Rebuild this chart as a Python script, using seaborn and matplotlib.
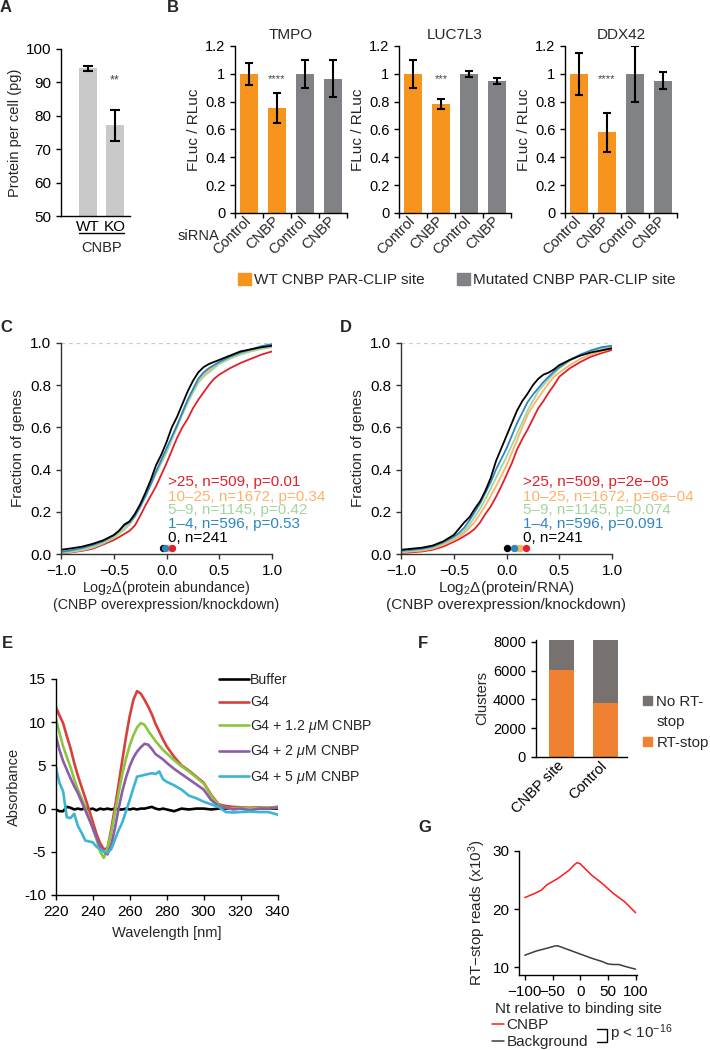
import numpy as np
import pandas as pd
import matplotlib
matplotlib.use('Agg')
import matplotlib.pyplot as plt
import matplotlib.transforms as mtransforms
import seaborn as sns
from matplotlib.patches import Patch
from matplotlib.lines import Line2D

# ---------------- DATA ----------------
A_groups = ['WT', 'KO']
A_values = [94.2, 77.2]
A_errors = [0.85, 4.6]

B_genes = ['TMPO', 'LUC7L3', 'DDX42']
B_sirna = ['Control', 'CNBP', 'Control', 'CNBP']
B_site = ['WT', 'WT', 'Mutated', 'Mutated']
TMPO_values = [1.0, 0.755, 1.0, 0.965]
TMPO_errors = [0.08, 0.11, 0.10, 0.135]
LUC7L3_values = [1.0, 0.785, 1.0, 0.95]
LUC7L3_errors = [0.10, 0.035, 0.022, 0.022]
DDX42_values = [1.0, 0.58, 1.0, 0.95]
DDX42_errors = [0.15, 0.14, 0.20, 0.06]
B_stars = ['****', '***', '****']
B_yticklabels = ['0', '0.2', '0.4', '0.6', '0.8', '1', '1.2']

CD_groups = ['0', '1-4', '5-9', '10-25', '>25']
C_labels = ['0, n=241', '1\u20134, n=596, p=0.53', '5\u20139, n=1145, p=0.42',
            '10\u201325, n=1672, p=0.34', '>25, n=509, p=0.01']
D_labels = ['0, n=241', '1\u20134, n=596, p=0.091', '5\u20139, n=1145, p=0.074',
            '10\u201325, n=1672, p=6e\u221204', '>25, n=509, p=2e\u221205']
CD_x = [-1.0, -0.9, -0.8, -0.7, -0.6, -0.5, -0.45, -0.4, -0.35, -0.3, -0.25, -0.2, -0.15, -0.1,
        -0.05, 0.0, 0.05, 0.1, 0.15, 0.2, 0.25, 0.3, 0.35, 0.4, 0.45, 0.5, 0.6, 0.7, 0.8, 0.9, 1.0]
C_F_0 = [0.02, 0.027, 0.035, 0.048, 0.065, 0.09, 0.11, 0.14, 0.155, 0.19, 0.235, 0.29, 0.35, 0.42,
         0.47, 0.53, 0.60, 0.65, 0.71, 0.77, 0.82, 0.86, 0.885, 0.90, 0.91, 0.92, 0.94, 0.96, 0.97, 0.98, 0.987]
C_F_1_4 = [0.01, 0.018, 0.028, 0.042, 0.06, 0.088, 0.11, 0.135, 0.15, 0.18, 0.225, 0.275, 0.33, 0.39,
           0.445, 0.50, 0.555, 0.61, 0.67, 0.73, 0.78, 0.83, 0.86, 0.88, 0.895, 0.91, 0.935, 0.955, 0.97, 0.985, 0.995]
C_F_5_9 = [0.005, 0.01, 0.018, 0.03, 0.05, 0.075, 0.095, 0.115, 0.14, 0.175, 0.22, 0.27, 0.325, 0.38,
           0.43, 0.48, 0.54, 0.60, 0.66, 0.715, 0.765, 0.81, 0.84, 0.86, 0.88, 0.90, 0.925, 0.945, 0.96, 0.972, 0.98]
C_F_10_25 = [0.005, 0.012, 0.02, 0.032, 0.052, 0.08, 0.10, 0.12, 0.145, 0.18, 0.225, 0.28, 0.335, 0.39,
             0.44, 0.495, 0.55, 0.61, 0.67, 0.725, 0.775, 0.82, 0.85, 0.87, 0.89, 0.905, 0.93, 0.95, 0.965, 0.975, 0.982]
C_F_gt25 = [0.003, 0.008, 0.015, 0.025, 0.045, 0.066, 0.08, 0.095, 0.11, 0.135, 0.18, 0.23, 0.275, 0.32,
            0.375, 0.43, 0.49, 0.55, 0.60, 0.64, 0.69, 0.73, 0.765, 0.80, 0.83, 0.85, 0.88, 0.905, 0.925, 0.945, 0.96]
D_F_0 = [0.02, 0.025, 0.03, 0.04, 0.06, 0.09, 0.12, 0.15, 0.175, 0.215, 0.25, 0.30, 0.36, 0.44,
         0.50, 0.56, 0.62, 0.68, 0.725, 0.76, 0.80, 0.83, 0.85, 0.86, 0.875, 0.895, 0.92, 0.94, 0.955, 0.965, 0.975]
D_F_1_4 = [0.015, 0.02, 0.025, 0.035, 0.055, 0.082, 0.10, 0.125, 0.16, 0.20, 0.24, 0.29, 0.34, 0.40,
           0.45, 0.50, 0.56, 0.62, 0.67, 0.72, 0.755, 0.785, 0.815, 0.84, 0.865, 0.885, 0.92, 0.945, 0.965, 0.98, 0.987]
D_F_5_9 = [0.01, 0.015, 0.02, 0.03, 0.05, 0.074, 0.09, 0.11, 0.14, 0.177, 0.215, 0.26, 0.31, 0.36,
           0.41, 0.46, 0.515, 0.57, 0.625, 0.68, 0.725, 0.77, 0.80, 0.83, 0.855, 0.88, 0.915, 0.945, 0.962, 0.975, 0.98]
D_F_10_25 = [0.008, 0.012, 0.016, 0.025, 0.043, 0.066, 0.08, 0.10, 0.125, 0.153, 0.19, 0.23, 0.275, 0.32,
             0.37, 0.42, 0.48, 0.54, 0.60, 0.66, 0.70, 0.74, 0.775, 0.81, 0.84, 0.86, 0.895, 0.925, 0.945, 0.96, 0.975]
D_F_gt25 = [0.005, 0.008, 0.012, 0.02, 0.035, 0.058, 0.07, 0.085, 0.10, 0.12, 0.15, 0.19, 0.225, 0.27,
            0.32, 0.375, 0.43, 0.495, 0.545, 0.59, 0.64, 0.69, 0.725, 0.765, 0.80, 0.84, 0.88, 0.91, 0.935, 0.952, 0.967]
C_medians = [-0.035, -0.018, 0.0, 0.01, 0.05]
D_medians = [0.003, 0.073, 0.10, 0.126, 0.183]

E_nm = [220, 222, 224, 226, 228, 230, 232, 234, 236, 238, 240, 242, 244, 246, 248, 250,
        252, 254, 256, 258, 260, 262, 264, 266, 268, 270, 272, 274, 276, 278, 280, 284,
        288, 292, 296, 300, 304, 308, 312, 316, 320, 325, 330, 335, 340]
E_buffer = [-0.1, -0.3, -0.3, 0.2, 0.1, -0.1, 0.0, -0.1, 0.1, -0.1, 0.0, -0.2, 0.0, -0.1, 0.0, -0.1,
            0.0, -0.1, -0.1, 0.0, -0.1, 0.0, -0.1, 0.0, 0.0, 0.1, 0.2, 0.0, -0.1, 0.0, -0.1, -0.3,
            0.0, -0.1, 0.0, 0.0, -0.1, 0.0, 0.0, 0.0, 0.0, 0.0, 0.0, 0.0, 0.0]
E_G4 = [11.8, 10.8, 9.9, 8.4, 7.0, 5.3, 3.8, 2.5, 1.2, -0.1, -1.5, -2.9, -4.0, -4.7, -4.6, -2.4,
        0.1, 2.8, 5.6, 8.3, 10.7, 12.6, 13.6, 13.3, 12.6, 11.8, 10.9, 9.8, 8.9, 8.0, 7.2, 6.0,
        5.0, 4.4, 3.7, 3.0, 1.6, 0.5, 0.3, 0.2, 0.15, 0.1, 0.15, 0.1, 0.2]
E_G4_1p2 = [10.5, 8.8, 7.2, 6.0, 4.8, 3.4, 2.2, 1.2, 0.2, -1.0, -2.3, -3.5, -5.0, -5.7, -4.6, -2.8,
            -0.5, 1.8, 4.0, 5.8, 7.3, 8.5, 9.4, 9.9, 9.7, 9.0, 8.4, 7.8, 7.3, 6.8, 6.4, 5.6,
            4.9, 4.3, 3.6, 2.9, 1.5, 0.4, 0.1, 0.0, 0.1, 0.0, 0.1, 0.1, 0.1]
E_G4_2 = [8.5, 6.8, 5.5, 4.5, 3.5, 2.6, 1.8, 0.8, -0.2, -1.2, -2.2, -3.3, -4.4, -5.0, -5.3, -4.2,
          -2.3, 0.0, 2.0, 3.6, 4.9, 5.9, 6.6, 7.1, 7.5, 7.4, 6.9, 6.3, 6.0, 5.7, 5.3, 4.6,
          4.0, 3.4, 2.8, 2.2, 1.0, 0.3, 0.1, -0.1, 0.0, -0.2, 0.0, 0.0, 0.1]
E_G4_5 = [4.9, 3.0, 2.0, -1.0, -1.1, -0.6, -2.0, -2.8, -3.7, -3.8, -3.9, -4.4, -4.7, -5.0, -5.1, -4.7,
          -3.6, -2.5, -1.6, -0.3, 1.0, 2.4, 3.7, 3.8, 3.9, 4.0, 4.1, 4.0, 4.3, 3.4, 3.1, 2.7,
          2.2, 1.5, 1.2, 0.8, 0.5, 0.2, -0.4, -0.45, -0.4, -0.35, -0.4, -0.4, -0.7]
E_labels = ['Buffer', 'G4', 'G4 + 1.2 $\\mu$M CNBP', 'G4 + 2 $\\mu$M CNBP', 'G4 + 5 $\\mu$M CNBP']
E_yticks = [-10, -5, 0, 5, 10, 15]
E_yticklabels = ['-10', '-5', '0', '5', '10', '15']

F_groups = ['CNBP site', 'Control']
F_rt_stop = [6050, 3770]
F_no_rt_stop = [2100, 4380]

G_nt = [-100, -80, -70, -60, -40, -20, -10, -5, 0, 20, 40, 60, 80, 100]
G_cnbp = [22.0, 22.8, 23.3, 24.2, 25.3, 26.7, 27.7, 28.0, 27.8, 25.9, 24.4, 22.7, 21.3, 19.4]
G_bg_nt = [-100, -80, -60, -45, -40, -20, 0, 20, 40, 50, 60, 70, 80, 100]
G_background = [12.1, 12.8, 13.3, 13.7, 13.7, 13.0, 12.3, 11.6, 11.0, 10.6, 10.5, 10.5, 10.2, 9.7]

# ---------------- STYLE ----------------
sns.set_theme(style='ticks')
plt.rcParams['font.family'] = ['Liberation Sans', 'DejaVu Sans']
plt.rcParams['mathtext.fontset'] = 'custom'
plt.rcParams['mathtext.rm'] = 'Liberation Sans'
plt.rcParams['mathtext.it'] = 'Liberation Sans:italic'
plt.rcParams['axes.linewidth'] = 1.0
plt.rcParams['xtick.major.width'] = 1.0
plt.rcParams['ytick.major.width'] = 1.0
plt.rcParams['xtick.major.size'] = 3.5
plt.rcParams['ytick.major.size'] = 3.5

W, H = 710, 1050
fig = plt.figure(figsize=(7.1, 10.5), dpi=100)


def rect(l, t, r, b):
    return [l / W, 1 - b / H, (r - l) / W, (b - t) / H]


def fx(x):
    return x / W


def fy(y):
    return 1 - y / H


def style_axes(ax, color='black', size=10.5):
    sns.despine(ax=ax)
    for s in ['left', 'bottom']:
        ax.spines[s].set_color(color)
    ax.tick_params(colors='black', labelsize=size, length=3.5, width=1.0)
    ax.tick_params(axis='both', color=color)


# panel letters
for letter, x, y in [('A', 0, 8), ('B', 167, 8), ('C', 0, 327), ('D', 340, 327),
                     ('E', 2, 643), ('F', 418, 643), ('G', 418, 827)]:
    fig.text(fx(x), fy(y), letter, fontsize=12, fontweight='bold', ha='left', va='center')

# ---------------- A ----------------
axA = fig.add_axes(rect(61, 49, 130, 216))
dfA = pd.DataFrame({'g': A_groups, 'v': A_values})
sns.barplot(data=dfA, x='g', y='v', color='#C9C9C9', saturation=1, width=0.67,
            errorbar=None, linewidth=0, ax=axA)
axA.errorbar(range(len(A_values)), A_values, yerr=A_errors, fmt='none', ecolor='black',
             elinewidth=1.5, capsize=3.5, capthick=1.5)
axA.set_ylim(50, 100)
axA.set_yticks([50, 60, 70, 80, 90, 100])
axA.set_xlim(-1.0, 1.56)
style_axes(axA, size=11)
axA.tick_params(axis='x', length=0, pad=3)
axA.set_xlabel('')
axA.set_ylabel('Protein per cell (pg)', fontsize=10.5, labelpad=3)
axA.text(1, 90.7, '**', ha='center', va='center', fontsize=9, color='#444444')
trA = mtransforms.blended_transform_factory(axA.transData, axA.transAxes)
axA.plot([-0.35, 1.35], [-0.099, -0.099], transform=trA, color='black', lw=1.0, clip_on=False)
axA.text(0.5, -0.19, 'CNBP', transform=trA, ha='center', va='center', fontsize=10.5)

# ---------------- B ----------------
orangeB = '#F7941D'
grayB = '#808285'
B_vals = [TMPO_values, LUC7L3_values, DDX42_values]
B_errs = [TMPO_errors, LUC7L3_errors, DDX42_errors]
for i, left in enumerate([235, 399, 565]):
    ax = fig.add_axes(rect(left, 46, left + 112, 213))
    df = pd.DataFrame({'pos': [0, 1, 2, 3], 'v': B_vals[i], 'site': B_site})
    sns.barplot(data=df, x='pos', y='v', hue='site', palette={'WT': orangeB, 'Mutated': grayB},
                dodge=False, width=0.61, saturation=1, errorbar=None, legend=False,
                linewidth=0, ax=ax)
    ax.errorbar([0, 1, 2, 3], B_vals[i], yerr=B_errs[i], fmt='none', ecolor='black',
                elinewidth=1.5, capsize=3.2, capthick=1.5)
    ax.set_ylim(0, 1.2)
    ax.set_yticks([0, 0.2, 0.4, 0.6, 0.8, 1.0, 1.2])
    ax.set_yticklabels(B_yticklabels)
    ax.set_xlim(-0.5, 3.5)
    style_axes(ax, size=10.5)
    ax.set_xticks([-0.5, 0.5, 1.5, 2.5, 3.5])
    ax.set_xticklabels([])
    ax.set_xticks([0, 1, 2, 3], minor=True)
    ax.set_xticklabels(B_sirna, minor=True, rotation=45, ha='right', va='center',
                       rotation_mode='anchor', fontsize=10.5)
    ax.tick_params(axis='x', which='minor', length=0, pad=4)
    ax.tick_params(axis='x', which='major', length=3.5)
    ax.set_xlabel('')
    ax.set_ylabel('FLuc / RLuc', fontsize=11, labelpad=3)
    ax.set_title(B_genes[i], fontsize=11, pad=5)
    ax.text(1, 0.963, B_stars[i], ha='center', va='center', fontsize=8, color='#444444')
fig.text(fx(178), fy(236), 'siRNA', fontsize=10.5, ha='left', va='center')
legB = fig.legend(handles=[Patch(color=orangeB, label='WT CNBP PAR-CLIP site'),
                           Patch(color=grayB, label='Mutated CNBP PAR-CLIP site')],
                  loc='center left', bbox_to_anchor=(fx(238), fy(280)), ncol=2, frameon=False,
                  fontsize=11, handlelength=0.85, handleheight=0.85, handletextpad=0.2,
                  columnspacing=2.1, borderpad=0, borderaxespad=0)

# ---------------- C & D ----------------
cd_colors = ['#000000', '#2D86C4', '#A3D69B', '#FBB36A', '#E3202A']
C_series = [C_F_0, C_F_1_4, C_F_5_9, C_F_10_25, C_F_gt25]
D_series = [D_F_0, D_F_1_4, D_F_5_9, D_F_10_25, D_F_gt25]
draw_order = [4, 3, 2, 1, 0]
for key, left, series, meds, labels, xlabel, text_x, xl_size in [
        ('C', 61, C_series, C_medians, C_labels, 'Log$_2$\u0394(protein abundance)', 0.014, 10.3),
        ('D', 401, D_series, D_medians, D_labels, 'Log$_2$\u0394(protein/RNA)', 0.153, 11)]:
    ax = fig.add_axes(rect(left, 343, left + 211, 554))
    ax.axhline(1.0, color='#C8C8C8', lw=0.9, ls=(0, (3, 3)), zorder=0)
    for j in draw_order:
        sns.lineplot(x=CD_x, y=series[j], color=cd_colors[j], lw=1.3, estimator=None,
                     sort=False, ax=ax)
    for j in [0, 2, 3, 1, 4]:
        ax.scatter([meds[j]], [0.028], s=28, color=cd_colors[j], zorder=5, linewidths=0)
    ys = [0.074, 0.142, 0.209, 0.272, 0.343]
    for j in range(5):
        ax.text(text_x, ys[j], labels[j], color=cd_colors[j], fontsize=11, ha='left', va='center')
    ax.set_xlim(-1, 1)
    ax.set_ylim(0, 1.0)
    ax.set_xticks([-1.0, -0.5, 0.0, 0.5, 1.0])
    ax.set_yticks([0.0, 0.2, 0.4, 0.6, 0.8, 1.0])
    style_axes(ax, color='#333333', size=11)
    ax.set_xlabel(xlabel + '\n(CNBP overexpression/knockdown)', fontsize=xl_size, labelpad=1,
                  linespacing=1.1)
    ax.set_ylabel('Fraction of genes', fontsize=11, labelpad=4)

# ---------------- E ----------------
axE = fig.add_axes(rect(55.7, 679, 277.7, 895))
E_series = [E_buffer, E_G4, E_G4_1p2, E_G4_2, E_G4_5]
E_colors = ['#000000', '#D9403B', '#8CC63E', '#8D5CAA', '#3CB4D4']
for vals, col, lab in zip(E_series, E_colors, E_labels):
    sns.lineplot(x=E_nm, y=vals, color=col, lw=1.9, label=lab, estimator=None, sort=False, ax=axE)
axE.set_xlim(220, 340)
axE.set_ylim(-10, 15)
axE.set_xticks(list(range(220, 341, 20)))
axE.set_yticks(E_yticks)
axE.set_yticklabels(E_yticklabels)
style_axes(axE, size=11)
axE.set_xlabel('Wavelength [nm]', fontsize=10.5, labelpad=5)
axE.set_ylabel('Absorbance', fontsize=10.5, labelpad=2)
axE.legend(loc='upper left', bbox_to_anchor=(fx(219), fy(673)), bbox_transform=fig.transFigure,
           frameon=False, fontsize=10.2, handlelength=2.1, handletextpad=0.1, labelspacing=0.6,
           borderpad=0, borderaxespad=0)

# ---------------- F ----------------
orangeF = '#F08133'
grayF = '#777170'
axF = fig.add_axes(rect(535.7, 639.8, 626.7, 756.7))
F_total = [a + b for a, b in zip(F_rt_stop, F_no_rt_stop)]
sns.barplot(x=F_groups, y=F_total, color=grayF, saturation=1, width=0.57, errorbar=None,
            linewidth=0, ax=axF)
sns.barplot(x=F_groups, y=F_rt_stop, color=orangeF, saturation=1, width=0.57, errorbar=None,
            linewidth=0, ax=axF)
axF.set_xlim(-0.59, 1.49)
axF.set_ylim(0, 8150)
axF.set_yticks([0, 2000, 4000, 6000, 8000])
style_axes(axF, size=10.5)
axF.set_xticks([0, 1])
axF.set_xticklabels(F_groups, rotation=45, ha='right', va='center', rotation_mode='anchor', fontsize=10.5)
axF.tick_params(axis='x', length=0, pad=5)
axF.set_ylabel('Clusters', fontsize=10.5, labelpad=3)
axF.legend(handles=[Patch(color=grayF, label='No RT-'), Patch(color='none', label='stop'),
                    Patch(color=orangeF, label='RT-stop')],
           loc='upper left', bbox_to_anchor=(fx(643), fy(695)), bbox_transform=fig.transFigure,
           frameon=False, fontsize=10.8, handlelength=0.6, handleheight=0.6, handletextpad=0.3,
           labelspacing=0.42, borderpad=0, borderaxespad=0)

# ---------------- G ----------------
axG = fig.add_axes(rect(519.3, 851, 636.7, 975))
sns.lineplot(x=G_nt, y=G_cnbp, color='#FF1A1A', lw=1.1, estimator=None, sort=False, ax=axG, label='CNBP')
sns.lineplot(x=G_bg_nt, y=G_background, color='#3C3C3C', lw=1.1, estimator=None, sort=False, ax=axG,
             label='Background')
axG.set_xlim(-110, 102)
axG.set_ylim(8.7, 30)
axG.set_xticks([-100, -50, 0, 50, 100])
axG.set_yticks([10, 20, 30])
style_axes(axG, size=11)
axG.set_xlabel('Nt relative to binding site', fontsize=11, labelpad=2)
axG.set_ylabel('RT\u2212stop reads (x10$^3$)', fontsize=11, labelpad=3)
axG.legend(loc='upper left', bbox_to_anchor=(fx(492), fy(1018)), bbox_transform=fig.transFigure,
           frameon=False, fontsize=11, handlelength=0.8, handletextpad=0.15, labelspacing=0.2,
           borderpad=0, borderaxespad=0)
fig.add_artist(Line2D([fx(597), fx(606.5), fx(606.5), fx(597)],
                      [fy(1029), fy(1029), fy(1042), fy(1042)],
                      transform=fig.transFigure, color='black', lw=1.0))
fig.text(fx(610), fy(1033), 'p < 10$^{-16}$', fontsize=11, ha='left', va='center')

fig.savefig('out.png', dpi=100)
